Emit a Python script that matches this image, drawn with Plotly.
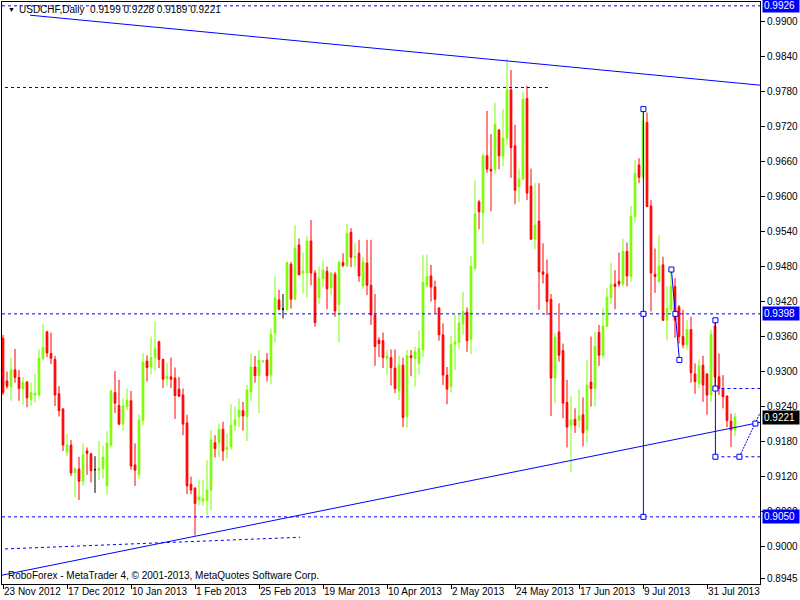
import plotly.graph_objects as go

# ---------------- data (USDCHF daily, one entry per bar) ----------------
opens = [
    0.9356, 0.9283, 0.9273, 0.9302, 0.9289, 0.9270, 0.9281, 0.9251, 0.9259, 0.9259,
    0.9322, 0.9367, 0.9330, 0.9320, 0.9261, 0.9235, 0.9161, 0.9173, 0.9126, 0.9132,
    0.9111, 0.9163, 0.9158, 0.9131, 0.9130, 0.9133, 0.9103, 0.9173, 0.9263, 0.9241,
    0.9209, 0.9239, 0.9249, 0.9139, 0.9123, 0.9215, 0.9317, 0.9307, 0.9323, 0.9350,
    0.9320, 0.9287, 0.9290, 0.9288, 0.9269, 0.9259, 0.9211, 0.9106, 0.9099, 0.9079,
    0.9077, 0.9078, 0.9096, 0.9177, 0.9177, 0.9200, 0.9166, 0.9170, 0.9207, 0.9222,
    0.9232, 0.9222, 0.9264, 0.9307, 0.9292, 0.9316, 0.9319, 0.9293, 0.9365, 0.9422,
    0.9406, 0.9406, 0.9483, 0.9423, 0.9516, 0.9468, 0.9468, 0.9523, 0.9468, 0.9426,
    0.9458, 0.9471, 0.9443, 0.9466, 0.9414, 0.9486, 0.9480, 0.9538, 0.9494, 0.9502,
    0.9446, 0.9485, 0.9447, 0.9396, 0.9353, 0.9352, 0.9322, 0.9323, 0.9305, 0.9266,
    0.9310, 0.9222, 0.9326, 0.9322, 0.9313, 0.9337, 0.9447, 0.9463, 0.9444, 0.9408,
    0.9362, 0.9293, 0.9273, 0.9346, 0.9349, 0.9381, 0.9401, 0.9354, 0.9476, 0.9590,
    0.9571, 0.9669, 0.9646, 0.9646, 0.9713, 0.9667, 0.9699, 0.9782, 0.9686, 0.9616,
    0.9629, 0.9767, 0.9617, 0.9526, 0.9557, 0.9470, 0.9466, 0.9423, 0.9288, 0.9367,
    0.9335, 0.9246, 0.9207, 0.9217, 0.9216, 0.9225, 0.9199, 0.9281, 0.9270, 0.9366,
    0.9327, 0.9377, 0.9426, 0.9449, 0.9454, 0.9449, 0.9505, 0.9462, 0.9565, 0.9653,
    0.9633, 0.9726, 0.9583, 0.9466, 0.9453, 0.9482, 0.9387, 0.9406, 0.9445, 0.9410,
    0.9359, 0.9345, 0.9371, 0.9295, 0.9279, 0.9310, 0.9295, 0.9259, 0.9377, 0.9290,
    0.9270, 0.9257, 0.9214, 0.9199,
]
highs = [
    0.9362, 0.9299, 0.9323, 0.9338, 0.9302, 0.9290, 0.9283, 0.9280, 0.9296, 0.9337,
    0.9381, 0.9369, 0.9366, 0.9326, 0.9274, 0.9236, 0.9192, 0.9182, 0.9135, 0.9153,
    0.9176, 0.9169, 0.9160, 0.9154, 0.9180, 0.9172, 0.9197, 0.9267, 0.9300, 0.9285,
    0.9253, 0.9270, 0.9266, 0.9176, 0.9226, 0.9331, 0.9327, 0.9359, 0.9386, 0.9352,
    0.9321, 0.9314, 0.9323, 0.9306, 0.9290, 0.9270, 0.9225, 0.9119, 0.9101, 0.9114,
    0.9114, 0.9147, 0.9199, 0.9190, 0.9210, 0.9213, 0.9193, 0.9243, 0.9239, 0.9253,
    0.9247, 0.9276, 0.9330, 0.9326, 0.9336, 0.9319, 0.9331, 0.9373, 0.9462, 0.9439,
    0.9432, 0.9487, 0.9487, 0.9550, 0.9527, 0.9503, 0.9532, 0.9559, 0.9473, 0.9479,
    0.9490, 0.9479, 0.9470, 0.9470, 0.9488, 0.9502, 0.9552, 0.9545, 0.9519, 0.9525,
    0.9495, 0.9525, 0.9525, 0.9432, 0.9358, 0.9366, 0.9336, 0.9337, 0.9337, 0.9326,
    0.9323, 0.9336, 0.9336, 0.9342, 0.9369, 0.9499, 0.9499, 0.9482, 0.9455, 0.9409,
    0.9382, 0.9307, 0.9360, 0.9396, 0.9396, 0.9436, 0.9409, 0.9497, 0.9627, 0.9593,
    0.9673, 0.9746, 0.9706, 0.9760, 0.9715, 0.9749, 0.9836, 0.9816, 0.9722, 0.9647,
    0.9779, 0.9789, 0.9647, 0.9622, 0.9622, 0.9519, 0.9491, 0.9432, 0.9365, 0.9416,
    0.9347, 0.9285, 0.9257, 0.9236, 0.9269, 0.9255, 0.9319, 0.9359, 0.9367, 0.9379,
    0.9408, 0.9442, 0.9485, 0.9473, 0.9503, 0.9527, 0.9520, 0.9583, 0.9662, 0.9665,
    0.9749, 0.9743, 0.9593, 0.9510, 0.9533, 0.9496, 0.9445, 0.9474, 0.9459, 0.9413,
    0.9405, 0.9387, 0.9393, 0.9313, 0.9320, 0.9326, 0.9296, 0.9371, 0.9387, 0.9330,
    0.9293, 0.9258, 0.9227, 0.9228,
]
lows = [
    0.9259, 0.9270, 0.9249, 0.9280, 0.9249, 0.9242, 0.9238, 0.9240, 0.9246, 0.9256,
    0.9319, 0.9324, 0.9312, 0.9240, 0.9222, 0.9163, 0.9154, 0.9120, 0.9084, 0.9079,
    0.9103, 0.9122, 0.9109, 0.9091, 0.9113, 0.9116, 0.9087, 0.9170, 0.9228, 0.9207,
    0.9198, 0.9233, 0.9131, 0.9103, 0.9115, 0.9207, 0.9282, 0.9294, 0.9301, 0.9305,
    0.9271, 0.9274, 0.9271, 0.9218, 0.9255, 0.9190, 0.9089, 0.9089, 0.9018, 0.9070,
    0.9069, 0.9053, 0.9061, 0.9152, 0.9153, 0.9146, 0.9150, 0.9165, 0.9198, 0.9204,
    0.9198, 0.9180, 0.9249, 0.9280, 0.9228, 0.9314, 0.9282, 0.9277, 0.9349, 0.9404,
    0.9390, 0.9402, 0.9407, 0.9422, 0.9464, 0.9433, 0.9426, 0.9447, 0.9376, 0.9415,
    0.9444, 0.9406, 0.9430, 0.9393, 0.9349, 0.9478, 0.9479, 0.9478, 0.9478, 0.9453,
    0.9441, 0.9430, 0.9379, 0.9309, 0.9324, 0.9305, 0.9293, 0.9275, 0.9262, 0.9250,
    0.9204, 0.9203, 0.9291, 0.9273, 0.9293, 0.9324, 0.9444, 0.9419, 0.9399, 0.9352,
    0.9276, 0.9243, 0.9263, 0.9302, 0.9338, 0.9363, 0.9333, 0.9329, 0.9473, 0.9543,
    0.9518, 0.9640, 0.9574, 0.9638, 0.9646, 0.9651, 0.9687, 0.9631, 0.9586, 0.9590,
    0.9628, 0.9593, 0.9525, 0.9509, 0.9405, 0.9450, 0.9396, 0.9223, 0.9245, 0.9316,
    0.9219, 0.9169, 0.9127, 0.9194, 0.9203, 0.9171, 0.9177, 0.9239, 0.9239, 0.9309,
    0.9322, 0.9375, 0.9415, 0.9406, 0.9445, 0.9445, 0.9445, 0.9453, 0.9556, 0.9622,
    0.9629, 0.9581, 0.9402, 0.9434, 0.9452, 0.9386, 0.9353, 0.9401, 0.9357, 0.9347,
    0.9339, 0.9336, 0.9280, 0.9261, 0.9270, 0.9247, 0.9225, 0.9247, 0.9270, 0.9259,
    0.9236, 0.9204, 0.9170, 0.9189,
]
closes = [
    0.9263, 0.9274, 0.9302, 0.9289, 0.9270, 0.9280, 0.9254, 0.9263, 0.9262, 0.9322,
    0.9340, 0.9331, 0.9322, 0.9259, 0.9232, 0.9173, 0.9173, 0.9125, 0.9132, 0.9111,
    0.9156, 0.9159, 0.9129, 0.9131, 0.9133, 0.9152, 0.9176, 0.9266, 0.9245, 0.9209,
    0.9240, 0.9250, 0.9137, 0.9130, 0.9216, 0.9315, 0.9306, 0.9323, 0.9338, 0.9320,
    0.9286, 0.9291, 0.9286, 0.9258, 0.9257, 0.9209, 0.9103, 0.9096, 0.9073, 0.9084,
    0.9081, 0.9096, 0.9182, 0.9167, 0.9200, 0.9163, 0.9169, 0.9207, 0.9216, 0.9233,
    0.9223, 0.9267, 0.9307, 0.9292, 0.9319, 0.9317, 0.9292, 0.9363, 0.9425, 0.9406,
    0.9406, 0.9486, 0.9423, 0.9511, 0.9465, 0.9471, 0.9523, 0.9468, 0.9383, 0.9459,
    0.9473, 0.9441, 0.9468, 0.9403, 0.9487, 0.9481, 0.9536, 0.9495, 0.9496, 0.9463,
    0.9487, 0.9447, 0.9396, 0.9342, 0.9347, 0.9323, 0.9326, 0.9306, 0.9270, 0.9310,
    0.9220, 0.9326, 0.9323, 0.9333, 0.9339, 0.9452, 0.9462, 0.9444, 0.9423, 0.9362,
    0.9293, 0.9269, 0.9346, 0.9350, 0.9382, 0.9402, 0.9352, 0.9479, 0.9569, 0.9573,
    0.9669, 0.9646, 0.9643, 0.9723, 0.9669, 0.9699, 0.9782, 0.9683, 0.9610, 0.9629,
    0.9766, 0.9605, 0.9526, 0.9550, 0.9470, 0.9466, 0.9419, 0.9288, 0.9358, 0.9327,
    0.9245, 0.9204, 0.9216, 0.9207, 0.9223, 0.9194, 0.9276, 0.9270, 0.9342, 0.9327,
    0.9377, 0.9427, 0.9449, 0.9445, 0.9449, 0.9505, 0.9463, 0.9565, 0.9639, 0.9632,
    0.9729, 0.9582, 0.9468, 0.9462, 0.9480, 0.9387, 0.9407, 0.9445, 0.9387, 0.9359,
    0.9345, 0.9371, 0.9297, 0.9282, 0.9309, 0.9276, 0.9259, 0.9363, 0.9290, 0.9270,
    0.9256, 0.9215, 0.9199, 0.9221,
]
doji_bars = [23, 70]   # open == close, drawn in black

tick_bars = [0, 16, 32, 48, 64, 80, 96, 112, 128, 144, 160, 176]
tick_labels = ["23 Nov 2012", "17 Dec 2012", "10 Jan 2013", "1 Feb 2013",
               "25 Feb 2013", "19 Mar 2013", "10 Apr 2013", "2 May 2013",
               "24 May 2013", "17 Jun 2013", "9 Jul 2013", "31 Jul 2013"]
price_ticks = [0.8945, 0.9000, 0.9060, 0.9120, 0.9180, 0.9240, 0.9300, 0.9360,
               0.9420, 0.9480, 0.9540, 0.9600, 0.9660, 0.9720, 0.9780, 0.9840, 0.9900]

# drawn analysis objects (bar index, price)
full_levels = [0.9926, 0.9398, 0.9050]
short_level = {"bars": [0.5, 136.25], "price": 0.9786}
resistance_line = {"bars": [6.75, 189.25], "prices": [0.9910, 0.9790]}
support_line = {"bars": [-0.25, 189.25], "prices": [0.8950, 0.9212]}
lower_dotted = {"bars": [0.5, 74.25], "prices": [0.8995, 0.9015]}
vertical_a = {"bar": 160.1, "prices": [0.9749, 0.9398, 0.9050]}
zigzag = {"bars": [167.1, 168.1, 169.1], "prices": [0.9474, 0.9398, 0.9319]}
vertical_b = {"bar": 178.1, "prices": [0.9387, 0.9270, 0.9153]}
right_levels = [0.9270, 0.9153]
rising_end = {"bars": [184.1, 188.1, 189.25], "prices": [0.9153, 0.9210, 0.9228]}

last_close = closes[-1]
title_text = "USDCHF,Daily\u00a0\u00a00.9199 0.9228 0.9189 0.9221"
footer_text = "RoboForex - MetaTrader 4, \u00a9 2001-2013, MetaQuotes Software Corp."

# ---------------- styling ----------------
GREEN = "#7CFC00"
RED = "#FF0000"
BLUE = "#0000FF"
FONT = "Liberation Sans, Arial, DejaVu Sans, sans-serif"
X_MIN, X_MAX = -0.25, 189.25
Y_MIN, Y_MAX = 0.89349, 0.99326

n = len(opens)
idx = list(range(n))
main = [i for i in idx if i not in doji_bars]

fig = go.Figure()

fig.add_trace(go.Candlestick(
    x=main,
    open=[opens[i] for i in main], high=[highs[i] for i in main],
    low=[lows[i] for i in main], close=[closes[i] for i in main],
    increasing=dict(line=dict(color=GREEN, width=1), fillcolor=GREEN),
    decreasing=dict(line=dict(color=RED, width=1), fillcolor=RED),
    whiskerwidth=0, showlegend=False, hoverinfo="skip"))

fig.add_trace(go.Candlestick(
    x=doji_bars,
    open=[opens[i] for i in doji_bars], high=[highs[i] for i in doji_bars],
    low=[lows[i] for i in doji_bars], close=[closes[i] for i in doji_bars],
    increasing=dict(line=dict(color="black", width=1), fillcolor="black"),
    decreasing=dict(line=dict(color="black", width=1), fillcolor="black"),
    whiskerwidth=0, showlegend=False, hoverinfo="skip"))

DASH = "3px,3px"

def add_line(xs, ys, dash="solid", width=1):
    fig.add_trace(go.Scatter(x=xs, y=ys, mode="lines",
                             line=dict(color=BLUE, width=width, dash=dash),
                             showlegend=False, hoverinfo="skip"))

# full-width horizontal levels
for lv in full_levels:
    add_line([X_MIN, X_MAX], [lv, lv], dash=DASH)
add_line(short_level["bars"], [short_level["price"]] * 2, dash=DASH)
add_line(resistance_line["bars"], resistance_line["prices"])
add_line(support_line["bars"], support_line["prices"])
add_line(lower_dotted["bars"], lower_dotted["prices"], dash=DASH)
add_line([vertical_a["bar"], vertical_a["bar"]],
         [vertical_a["prices"][0], vertical_a["prices"][-1]])
add_line(zigzag["bars"], zigzag["prices"])
add_line([vertical_b["bar"], vertical_b["bar"]],
         [vertical_b["prices"][0], vertical_b["prices"][-1]])
for lv in right_levels:
    add_line([vertical_b["bar"], X_MAX], [lv, lv], dash=DASH)
add_line(rising_end["bars"], rising_end["prices"], dash="2px,1px")

# anchor squares
mx = ([vertical_a["bar"]] * 3 + zigzag["bars"] + [vertical_b["bar"]] * 3
      + rising_end["bars"][:2])
my = (vertical_a["prices"] + zigzag["prices"] + vertical_b["prices"]
      + rising_end["prices"][:2])
fig.add_trace(go.Scatter(x=mx, y=my, mode="markers",
                         marker=dict(symbol="square", size=5, color="white",
                                     line=dict(color=BLUE, width=1)),
                         showlegend=False, hoverinfo="skip"))

annotations = []
# price labels on the right axis
for price, bg in [(0.9926, BLUE), (0.9398, BLUE), (0.9050, BLUE), (last_close, "black")]:
    annotations.append(dict(
        x=1, xref="paper", xanchor="left", xshift=2,
        y=price, yref="y", yanchor="middle",
        text=f"{price:.4f}", showarrow=False, align="left", width=34,
        font=dict(family=FONT, size=10, color="white"),
        bgcolor=bg, borderpad=1))

W, H = 800, 600
ML, MR, MT, MB = 2, 40, 2, 16
PW, PH = W - ML - MR, H - MT - MB

def px(xp):
    return (xp - ML) / PW

def py(yp):
    return 1 - (yp - MT) / PH

# date labels, left-aligned at their tick like the terminal draws them
for b, lab in zip(tick_bars, tick_labels):
    annotations.append(dict(x=b, xref="x", y=py(591), yref="paper",
                            xanchor="left", yanchor="middle", xshift=-1,
                            text=lab, showarrow=False,
                            font=dict(family=FONT, size=10, color="black")))

annotations.append(dict(x=px(6), y=py(10), xref="paper", yref="paper",
                        xanchor="left", yanchor="middle", text="\u25bc",
                        showarrow=False, font=dict(family=FONT, size=7, color="black")))
annotations.append(dict(x=px(17), y=py(10), xref="paper", yref="paper",
                        xanchor="left", yanchor="middle", text=title_text,
                        showarrow=False, font=dict(family=FONT, size=10, color="black")))
annotations.append(dict(x=px(6), y=py(575), xref="paper", yref="paper",
                        xanchor="left", yanchor="middle", text=footer_text,
                        showarrow=False, font=dict(family=FONT, size=10, color="black")))

fig.update_layout(
    template="none",
    width=W, height=H,
    margin=dict(l=ML, r=MR, t=MT, b=MB, pad=0),
    paper_bgcolor="white", plot_bgcolor="white",
    showlegend=False,
    boxgap=0.4,
    annotations=annotations,
    xaxis=dict(range=[X_MIN, X_MAX], rangeslider=dict(visible=False),
               showgrid=False, zeroline=False, showline=True, mirror=True,
               linecolor="black", linewidth=1,
               ticks="outside", ticklen=4, tickcolor="black",
               tickvals=tick_bars, showticklabels=False,
               automargin=False, fixedrange=True),
    yaxis=dict(range=[Y_MIN, Y_MAX], side="right",
               showgrid=False, zeroline=False, showline=True, mirror=True,
               linecolor="black", linewidth=1,
               ticks="outside", ticklen=4, tickcolor="black",
               tickvals=price_ticks, tickformat=".4f",
               tickfont=dict(family=FONT, size=10, color="black"),
               automargin=False, fixedrange=True),
)

fig.write_html(
    "out.html",
    config={"displayModeBar": False, "staticPlot": True},
    post_script="document.body.style.margin='0';document.body.style.overflow='hidden';",
)
